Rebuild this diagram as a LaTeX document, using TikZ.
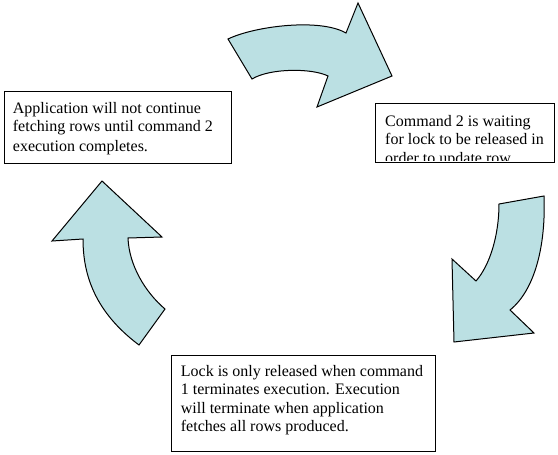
\documentclass[tikz,border=0pt]{standalone}
\usepackage{fontspec}
\setmainfont{Liberation Serif}
\definecolor{arrowblue}{RGB}{187,224,227}
\begin{document}
\begin{tikzpicture}[x=1pt,y=-1pt,
  arrowshape/.style={fill=arrowblue,draw=black,line width=1pt,line join=miter},
  textbox/.style={draw=black,line width=1pt,fill=white},
  txt/.style={anchor=base west,inner sep=0pt,font=\fontsize{16}{18.5}\selectfont}]
\useasboundingbox (0,0) rectangle (558,455);
% boxes
\draw[textbox] (4,91) rectangle (231,163);
\node[txt] (a1) at (12.7,113) {Application will not continue};
\node[txt] (a2) at (12.7,131.3) {fetching rows until command 2};
\node[txt] (a3) at (12.7,151.5) {execution completes.};

\draw[textbox] (375,103.5) rectangle (554,162);
\begin{scope}
\clip (375,103.5) rectangle (554,160);
\node[txt] (b1) at (385,126.3) {Command 2 is waiting};
\node[txt] (b2) at (385,144.7) {for lock to be released in};
\node[txt] (b3) at (385,163.2) {order to update row.};
\end{scope}

\draw[textbox] (171,355) rectangle (435,451);
\node[txt] (c1) at (180.7,376.7) {Lock is only released when command};
\node[txt] (c2) at (180.7,394.5) {1 terminates execution. Execution};
\node[txt] (c3) at (180.7,413) {will terminate when application};
\node[txt] (c4) at (180.7,431.7) {fetches all rows produced.};

% top arrow
\draw[arrowshape] (228,39) .. controls (255,26) and (320,18) .. (346,33)
  -- (358,3) -- (392,76) -- (317,107) -- (328,76)
  .. controls (312,68) and (270,68) .. (252,79) -- cycle;
% right arrow
\draw[arrowshape] (499,204) -- (544,196) .. controls (546,245) and (535,290) .. (510,310)
  -- (534,333) -- (454,342) -- (452,259) -- (476,281)
  .. controls (490,265) and (499,235) .. (499,204) -- cycle;
% left arrow
\draw[arrowshape] (102,181) -- (162,237) -- (128,238)
  .. controls (129,265) and (145,292) .. (165,309)
  -- (139,345) .. controls (95,312) and (83,275) .. (83,239)
  -- (52,241) -- cycle;
\end{tikzpicture}
\end{document}
